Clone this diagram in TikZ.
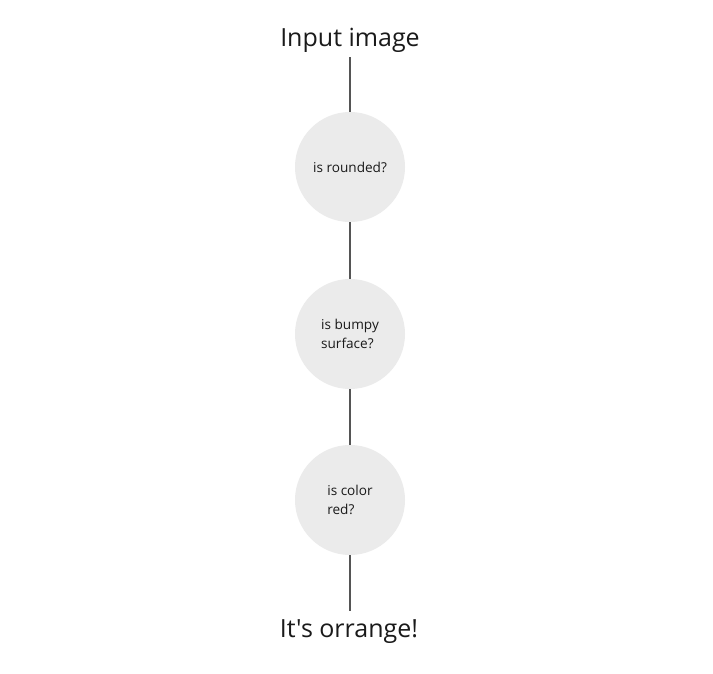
\documentclass[tikz,border=0pt]{standalone}
\usepackage{fontspec}
\setmainfont{Open Sans}[Ligatures=TeXOff]
\definecolor{circfill}{HTML}{EBEBEB}
\definecolor{linecol}{HTML}{555555}
\definecolor{txtcol}{HTML}{1A1A1A}
\begin{document}
\begin{tikzpicture}[x=1pt,y=-1pt,
  decision/.style={circle,fill=circfill,minimum size=110pt,inner sep=0pt,
    font=\fontsize{13.6pt}{18.5pt}\selectfont,align=left,text=txtcol},
  title/.style={inner sep=0pt,font=\fontsize{25pt}{29pt}\selectfont,text=txtcol,anchor=base},
  conn/.style={draw=linecol,line width=1.8pt}]
\useasboundingbox[fill=white] (0,0) rectangle (713,674);
\node[title,text depth=10pt] (in) at (350,47) {Input image};
\node[decision] (c1) at (350,167) {is rounded?};
\node[decision] (c2) at (350,334) {is bumpy\\surface?};
\node[decision] (c3) at (350,500) {is color\\red?};
\node[title,text height=26pt] (out) at (349,637) {It's orrange!};
\draw[conn] (in.south) -- (c1.north);
\draw[conn] (c1.south) -- (c2.north);
\draw[conn] (c2.south) -- (c3.north);
\draw[conn] (c3.south) -- (out.north -| c3.south);
\end{tikzpicture}
\end{document}
